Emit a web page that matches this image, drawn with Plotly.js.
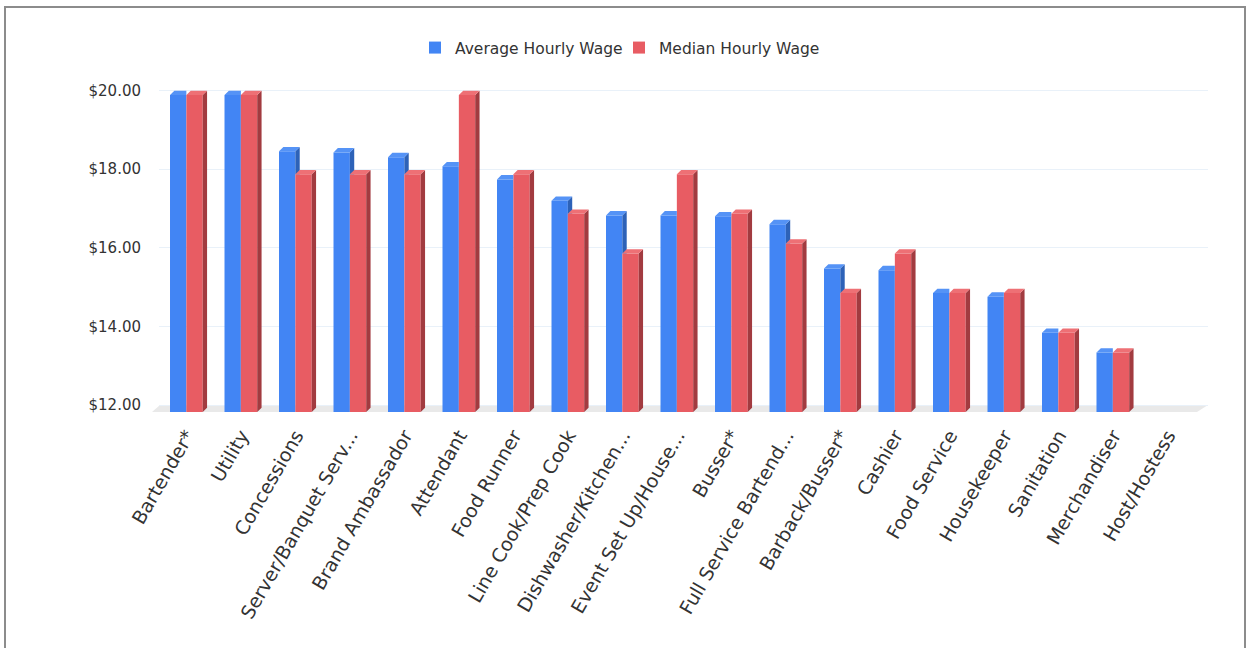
<!DOCTYPE html>
<html>
<head>
<meta charset="utf-8">
<script src="https://cdn.plot.ly/plotly-3.0.1.min.js"></script>
<style>
  html, body { margin: 0; padding: 0; background: #ffffff; overflow: hidden; }
  #chart { width: 1250px; height: 648px; }
  #frame { position: absolute; left: 4px; top: 6px; width: 1242px; height: 700px;
           border: 2px solid #8c8c8c; border-bottom: none; box-sizing: border-box; pointer-events: none; }
</style>
</head>
<body>
<div id="chart"></div>
<div id="frame"></div>
<script>
// ---- data ----
const categories = ["Bartender*", "Utility", "Concessions", "Server/Banquet Serv...", "Brand Ambassador",
  "Attendant", "Food Runner", "Line Cook/Prep Cook", "Dishwasher/Kitchen...", "Event Set Up/House...",
  "Busser*", "Full Service Bartend...", "Barback/Busser*", "Cashier", "Food Service", "Housekeeper",
  "Sanitation", "Merchandiser", "Host/Hostess"];
const avgWage = [20.00, 20.00, 18.58, 18.55, 18.43, 18.20, 17.87, 17.33, 16.96, 16.96, 16.94, 16.74,
  15.62, 15.58, 15.00, 14.91, 14.00, 13.50, null];
const medianWage = [20.00, 20.00, 18.00, 18.00, 18.00, 20.00, 18.00, 17.00, 16.00, 18.00, 17.00, 16.25,
  15.00, 16.00, 15.00, 15.00, 14.00, 13.50, null];
const seriesNames = ["Average Hourly Wage", "Median Hourly Wage"];
const yTickValues = [12, 14, 16, 18, 20];
const yTickLabels = ["$12.00", "$14.00", "$16.00", "$18.00", "$20.00"];

// ---- styling constants ----
const FONT = "DejaVu Sans, Verdana, sans-serif";
const BLUE = {front: "#4285f4", cap: "#5593f6", side: "#2d62b8"};
const RED = {front: "#e85c63", cap: "#ee7075", side: "#a23b40"};
const BAR_W = 0.30, BLUE_OFF = -0.31, RED_OFF = -0.01;
const DX = 0.08, DY = 0.11, BASE = 12;

const idx = categories.map((_, i) => i);

function capPoly(values, off, clipAgainst) {
  const xs = [], ys = [];
  values.forEach((v, i) => {
    if (v == null) return;
    const x0 = i + off, x1 = i + off + BAR_W;
    const clip = clipAgainst && clipAgainst[i] != null && clipAgainst[i] >= v;
    if (clip) {
      xs.push(x0, x0 + DX, x1, x1, null);
      ys.push(v, v + DY, v + DY, v, null);
    } else {
      xs.push(x0, x0 + DX, x1 + DX, x1, null);
      ys.push(v, v + DY, v + DY, v, null);
    }
  });
  return {xs, ys};
}
function sidePoly(values, off, coverValues) {
  const xs = [], ys = [];
  values.forEach((v, i) => {
    if (v == null) return;
    const x1 = i + off + BAR_W;
    let lowL = BASE, lowR = BASE + DY;
    if (coverValues) {
      const c = coverValues[i];
      if (c != null) {
        if (c >= v) return;
        lowL = Math.max(BASE, c);
        lowR = Math.max(BASE + DY, c);
      }
    }
    xs.push(x1, x1 + DX, x1 + DX, x1, null);
    ys.push(v, v + DY, lowR, lowL, null);
  });
  return {xs, ys};
}

function poly(p, color) {
  return {type: "scatter", mode: "lines", x: p.xs, y: p.ys, fill: "toself", fillcolor: color,
    line: {width: 0, color: color}, hoverinfo: "skip", showlegend: false, yaxis: "y", xaxis: "x"};
}

const blueBar = {type: "bar", name: seriesNames[0], x: idx, y: avgWage, width: BAR_W, offset: BLUE_OFF,
  marker: {color: BLUE.front, line: {width: 0}}, yaxis: "y",
  hovertemplate: "%{customdata}: $%{y:.2f}<extra>" + seriesNames[0] + "</extra>", customdata: categories};
const redBar = {type: "bar", name: seriesNames[1], x: idx, y: medianWage, width: BAR_W, offset: RED_OFF,
  marker: {color: RED.front, line: {width: 0}}, yaxis: "y",
  hovertemplate: "%{customdata}: $%{y:.2f}<extra>" + seriesNames[1] + "</extra>", customdata: categories};

const traces = [
  blueBar, redBar,
  poly(sidePoly(avgWage, BLUE_OFF, medianWage), BLUE.side),
  poly(capPoly(avgWage, BLUE_OFF, medianWage), BLUE.cap),
  poly(sidePoly(medianWage, RED_OFF, null), RED.side),
  poly(capPoly(medianWage, RED_OFF, null), RED.cap),
  // dummy on y2 to activate the grid axis
  {type: "scatter", x: [0], y: [null], yaxis: "y2", showlegend: false, hoverinfo: "skip"}
];

const layout = {
  width: 1250, height: 648, autosize: false,
  margin: {l: 159, r: 42, t: 85, b: 236, pad: 0},
  paper_bgcolor: "#ffffff", plot_bgcolor: "#ffffff",
  font: {family: FONT, color: "#333333"},
  barmode: "overlay",
  showlegend: true,
  legend: {orientation: "h", xref: "container", yref: "container", x: 0.332, xanchor: "left",
    y: 1 - 48 / 648, yanchor: "middle", font: {size: 15.5, color: "#333333", family: FONT},
    itemwidth: 30, entrywidth: 159, entrywidthmode: "pixels",
    traceorder: "normal", bgcolor: "rgba(0,0,0,0)"},
  xaxis: {range: [-0.512, 18.736], tickvals: idx, ticktext: categories, tickangle: -60,
    tickfont: {size: 19, color: "#333333", family: FONT}, showgrid: false, zeroline: false,
    showline: false, ticks: "outside", ticklen: 4, tickcolor: "rgba(0,0,0,0)", fixedrange: true},
  yaxis: {range: [12, 20.252], showgrid: false, zeroline: false, showticklabels: false,
    showline: false, ticks: "", fixedrange: true},
  yaxis2: {overlaying: "y", side: "left", range: [11.822, 20.140], tickvals: yTickValues,
    ticktext: yTickLabels, showgrid: true, gridcolor: "#e9f1f9", gridwidth: 1, zeroline: false,
    showline: false, ticks: "outside", ticklen: 14, tickcolor: "rgba(0,0,0,0)",
    tickfont: {size: 15, color: "#333333", family: FONT}, fixedrange: true},
  shapes: [{
    type: "path", xref: "paper", yref: "y2", layer: "below",
    path: "M 0.001 12 L 1.0 12 L 0.9895 11.822 L -0.0067 11.822 Z",
    fillcolor: "#e9e9e9", line: {width: 0}
  }]
};

Plotly.newPlot("chart", traces, layout, {displayModeBar: false, staticPlot: false});
</script>
</body>
</html>
